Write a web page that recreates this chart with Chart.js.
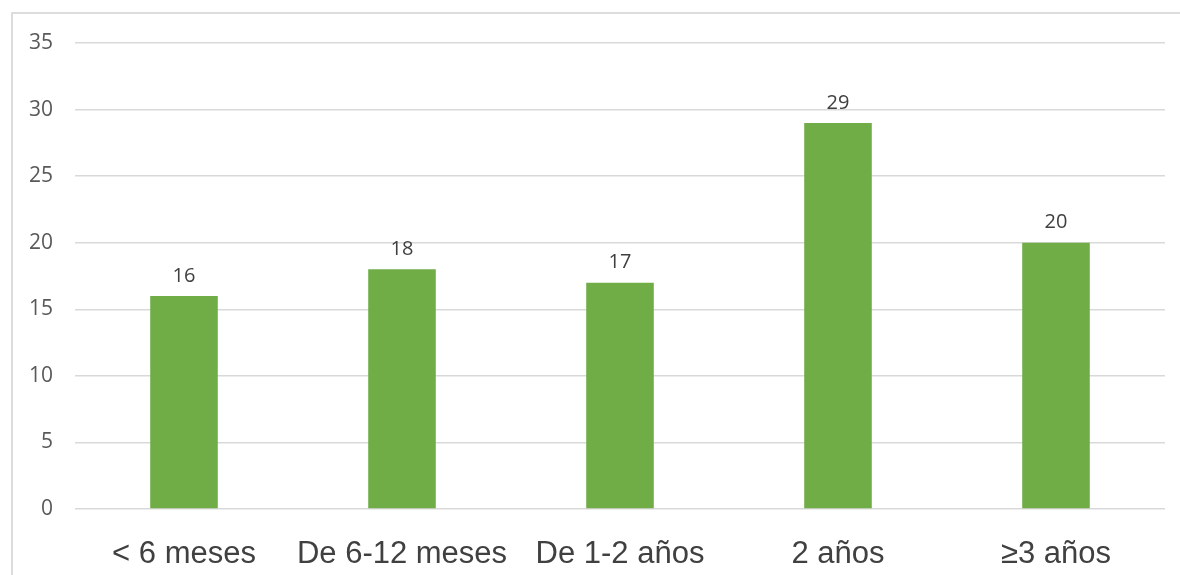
<!DOCTYPE html>
<html>
<head>
<meta charset="utf-8">
<script src="https://cdn.jsdelivr.net/npm/chart.js@4"></script>
<style>
    html, body { margin: 0; padding: 0; background: #fff; }
    #wrap { position: relative; width: 1180px; height: 575px; }
    #frame { position: absolute; left: 11px; top: 12px; right: 0; bottom: 0; border-top: 2px solid #dcdcdc; border-left: 2px solid #dcdcdc; }
    canvas { position: absolute; left: 0; top: 0; }
</style>
</head>
<body>
<div id="wrap">
    <div id="frame"></div>
    <canvas id="chart" width="1180" height="575"></canvas>
</div>
<script>
const categories = ["< 6 meses", "De 6-12 meses", "De 1-2 años", "2 años", "≥3 años"];
const values = [16, 18, 17, 29, 20];
const yTicks = [0, 5, 10, 15, 20, 25, 30, 35];

// Value labels above each bar
const barLabels = {
    id: "barLabels",
    afterDatasetsDraw(chart) {
        const ctx = chart.ctx;
        const meta = chart.getDatasetMeta(0);
        ctx.save();
        ctx.font = "20px 'Open Sans', sans-serif";
        ctx.fillStyle = "#404040";
        ctx.textAlign = "center";
        ctx.textBaseline = "bottom";
        meta.data.forEach((bar, i) => {
            ctx.fillText(String(values[i]), bar.x, bar.y - 10);
        });
        ctx.restore();
    }
};

new Chart(document.getElementById("chart"), {
    type: "bar",
    data: {
        labels: categories,
        datasets: [{
            data: values,
            backgroundColor: "#70ad47",
            categoryPercentage: 1,
            barPercentage: 0.31
        }]
    },
    options: {
        responsive: false,
        animation: false,
        layout: { padding: { top: 43, right: 15, left: 0, bottom: 0 } },
        plugins: { legend: { display: false }, tooltip: { enabled: false } },
        scales: {
            x: {
                grid: { display: false },
                border: { display: false },
                ticks: { color: "#404040", font: { family: "'Liberation Sans', Arial, sans-serif", size: 31 }, padding: 19, maxRotation: 0 },
                afterFit: s => { s.height = 66; }
            },
            y: {
                min: 0,
                max: 35,
                afterBuildTicks: s => { s.ticks = yTicks.map(v => ({ value: v })); },
                grid: { color: "#d9d9d9", lineWidth: 1.5, drawTicks: false },
                border: { display: false },
                ticks: { color: "#595959", font: { family: "'Open Sans', sans-serif", size: 21 }, padding: 22 },
                afterFit: s => { s.width = 75; }
            }
        }
    },
    plugins: [barLabels]
});
</script>
</body>
</html>
